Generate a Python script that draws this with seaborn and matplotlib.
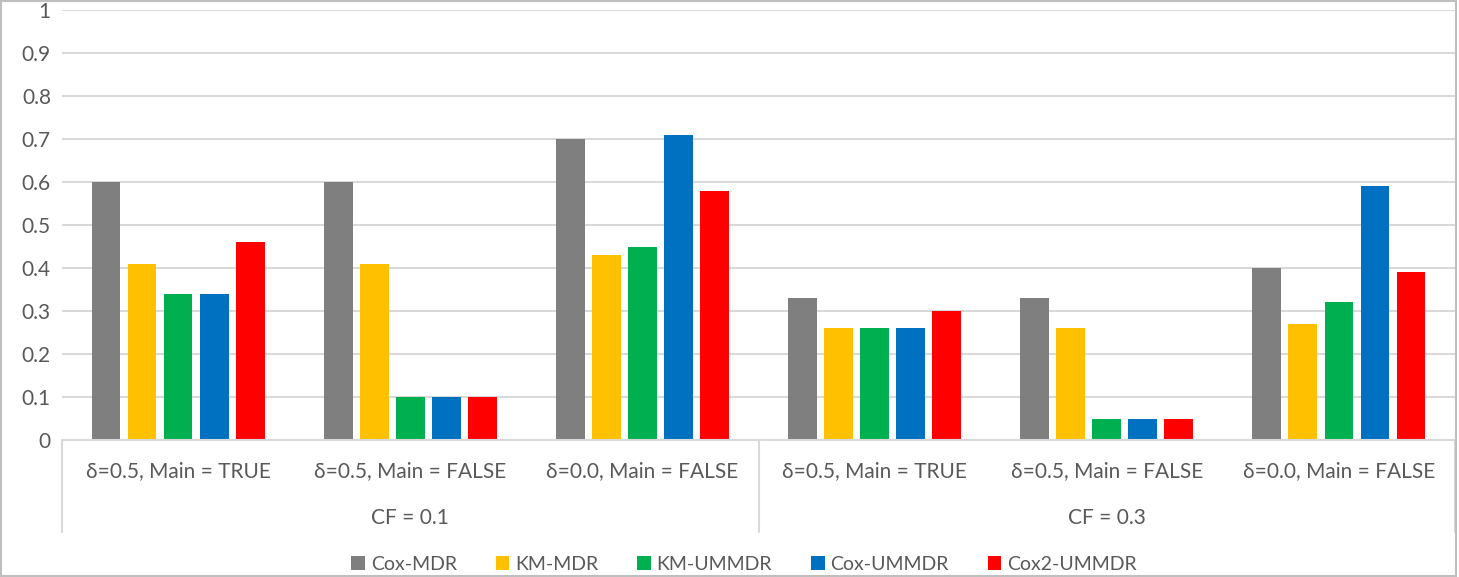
import matplotlib
matplotlib.use("Agg")
import matplotlib.pyplot as plt
import seaborn as sns
import pandas as pd
from matplotlib.patches import Patch
from matplotlib.lines import Line2D

# ---- data ----
cf_groups = ["CF = 0.1", "CF = 0.3"]
conditions = ["δ=0.5, Main = TRUE", "δ=0.5, Main = FALSE", "δ=0.0, Main = FALSE"]
methods = ["Cox-MDR", "KM-MDR", "KM-UMMDR", "Cox-UMMDR", "Cox2-UMMDR"]
colors = ["#7F7F7F", "#FFC000", "#00B050", "#0070C0", "#FF0000"]

cox_mdr    = [0.60, 0.60, 0.70, 0.33, 0.33, 0.40]
km_mdr     = [0.41, 0.41, 0.43, 0.26, 0.26, 0.27]
km_ummdr   = [0.34, 0.10, 0.45, 0.26, 0.05, 0.32]
cox_ummdr  = [0.34, 0.10, 0.71, 0.26, 0.05, 0.59]
cox2_ummdr = [0.46, 0.10, 0.58, 0.30, 0.05, 0.39]
series = [cox_mdr, km_mdr, km_ummdr, cox_ummdr, cox2_ummdr]
yticks = [0, 0.1, 0.2, 0.3, 0.4, 0.5, 0.6, 0.7, 0.8, 0.9, 1]
ytick_labels = ["0", "0.1", "0.2", "0.3", "0.4", "0.5", "0.6", "0.7", "0.8", "0.9", "1"]

keys = [f"{cf}|{c}" for cf in cf_groups for c in conditions]
rows = []
for m, vals in zip(methods, series):
    for k, v in zip(keys, vals):
        rows.append({"cat": k, "method": m, "value": v})
df = pd.DataFrame(rows)

sns.set_theme(style="white")
plt.rcParams["font.family"] = ["Lato", "DejaVu Sans"]
text_color = "#595959"
grid_color = "#D9D9D9"

fig = plt.figure(figsize=(14.59, 5.77), dpi=100)
ax = fig.add_axes([62/1459, 1-440/577, (1455-62)/1459, 430/577])

sns.barplot(data=df, x="cat", y="value", hue="method", order=keys,
            hue_order=methods, palette=colors, width=0.776, gap=0.2,
            saturation=1, ax=ax, legend=False, linewidth=0, errorbar=None)

ax.set_ylim(0, 1)
ax.set_xlim(-0.5, len(keys) - 0.5)
ax.set_yticks(yticks)
ax.set_yticklabels(ytick_labels, fontsize=15, color=text_color)
ax.yaxis.grid(True, color=grid_color, linewidth=1.5)
ax.set_axisbelow(True)
ax.tick_params(axis="y", length=0, pad=8)
ax.tick_params(axis="x", length=0, pad=15)
ax.set_xticks(range(len(keys)))
ax.set_xticklabels([k.split("|")[1] for k in keys], fontsize=15, color=text_color)
ax.set_xlabel("")
ax.set_ylabel("")
for s in ["left", "right", "top"]:
    ax.spines[s].set_visible(False)
ax.spines["bottom"].set_color(grid_color)
ax.spines["bottom"].set_linewidth(1.5)

# group separators and group labels
trans = ax.get_xaxis_transform()
y_bot = -(532 - 440) / 430
for xpos in [-0.5, 2.5, 5.5]:
    ax.add_line(Line2D([xpos, xpos], [0, y_bot], transform=trans,
                       color=grid_color, linewidth=1.5, clip_on=False))
for i, cf in enumerate(cf_groups):
    ax.text(i * 3 + 1, -(518 - 440) / 430, cf, transform=trans, ha="center",
            va="center", fontsize=15, color=text_color)

handles = [Patch(facecolor=c, edgecolor="none") for c in colors]
fig.legend(handles, methods, loc="center", bbox_to_anchor=(744/1459, 1-564/577),
           ncol=5, frameon=False, fontsize=14, handlelength=0.7, handleheight=0.7,
           handletextpad=0.3, columnspacing=2.0, labelcolor=text_color)

# outer frame
fig.add_artist(plt.Rectangle((0.001, 0.001), 0.997, 0.997, transform=fig.transFigure,
                             fill=False, edgecolor="#BFBFBF", linewidth=1.5))

fig.savefig("out.png", dpi=100)
